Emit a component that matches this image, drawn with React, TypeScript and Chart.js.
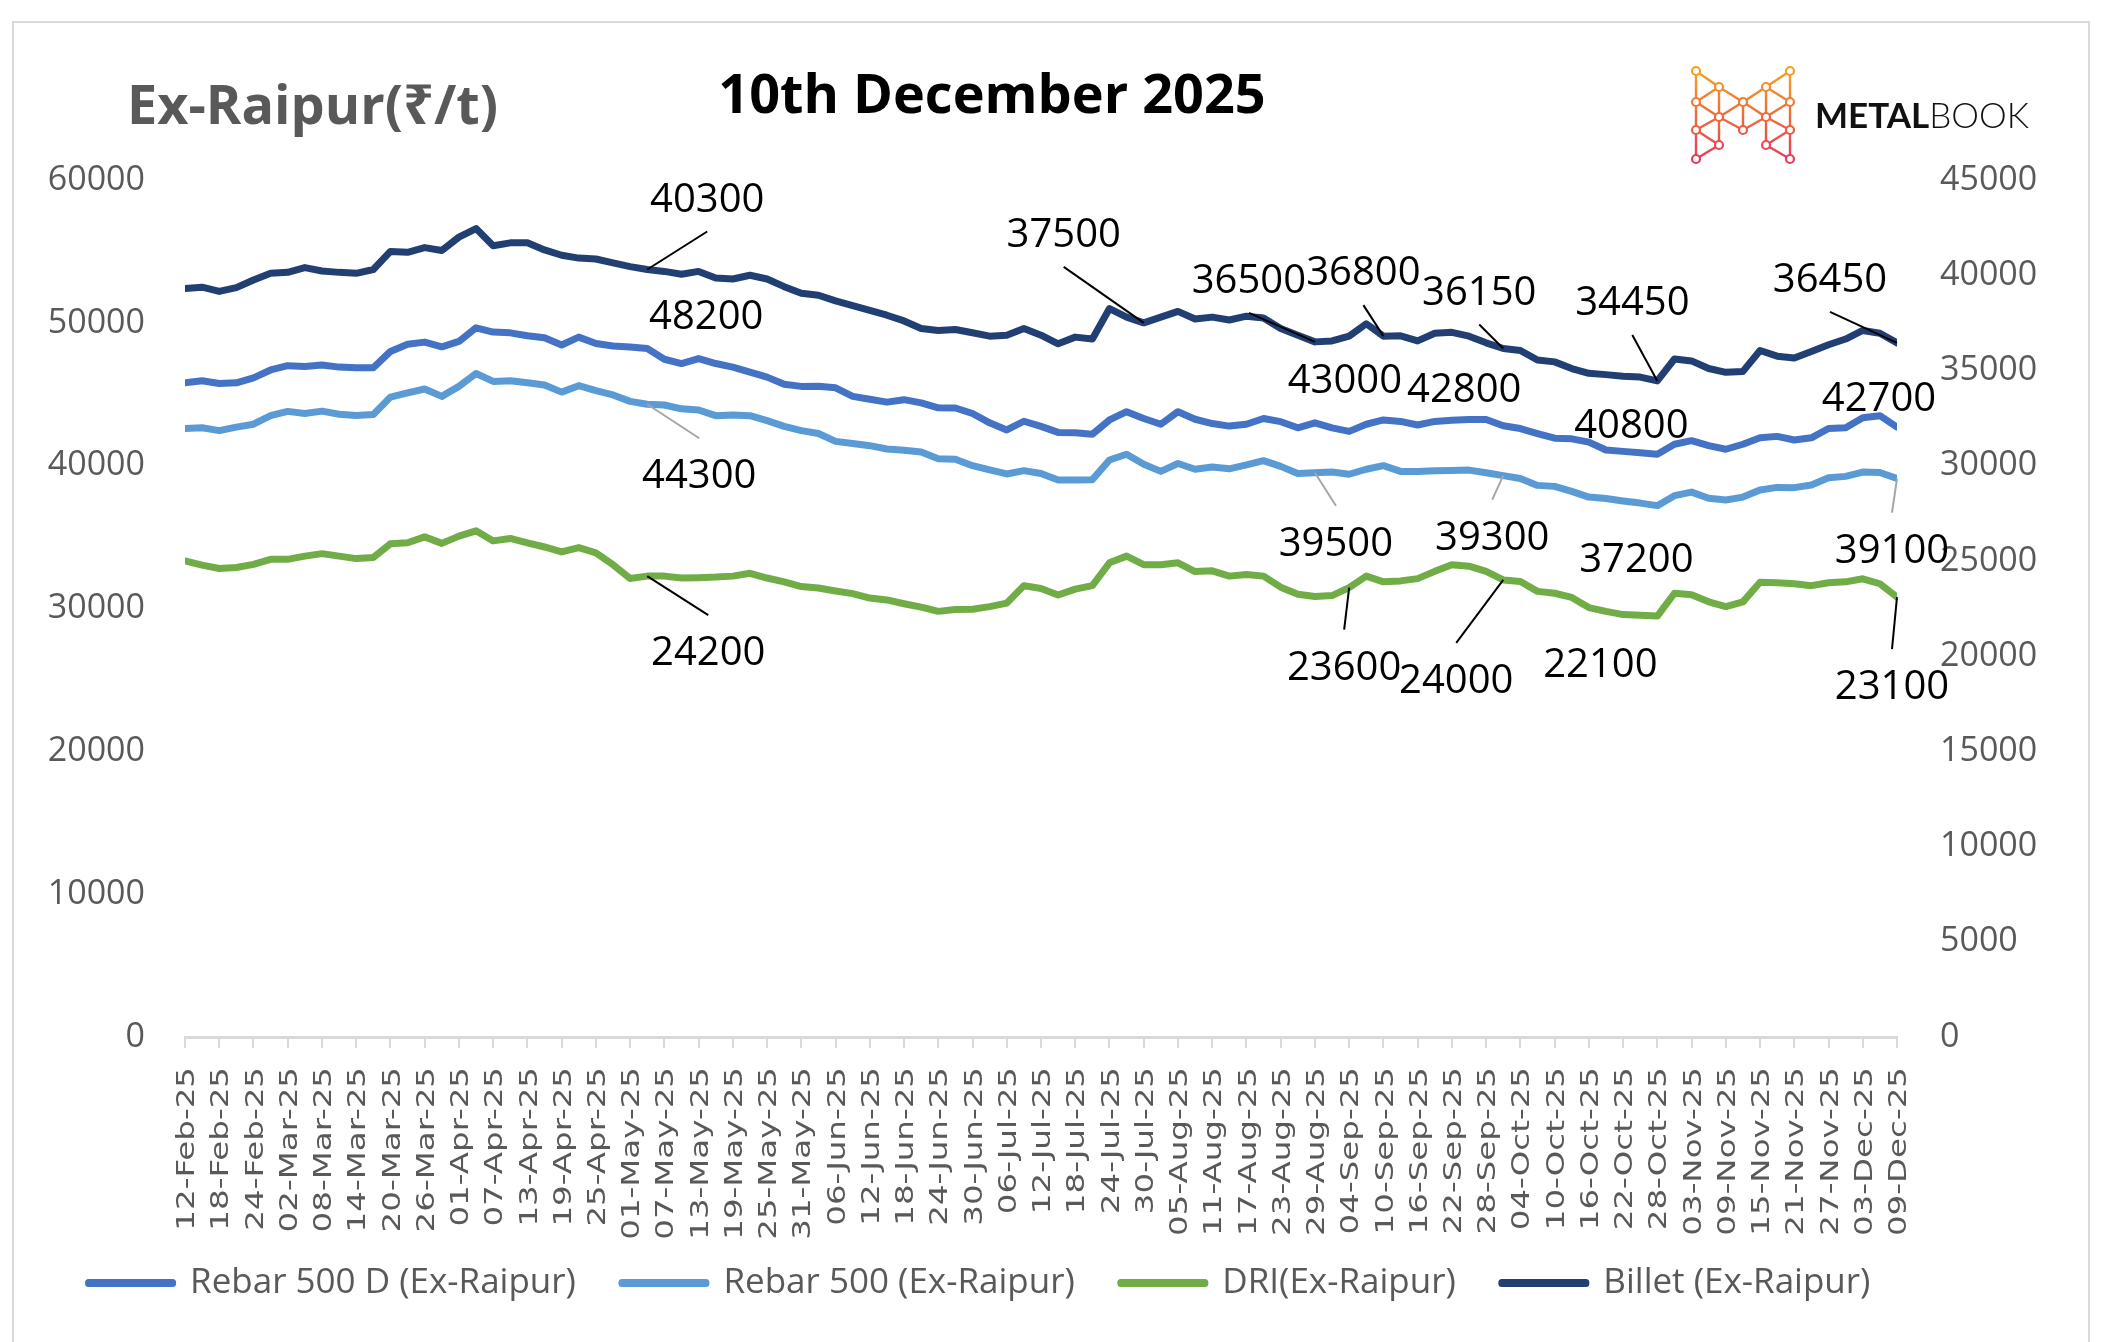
import React, { useEffect, useRef } from "react";
import { Chart, registerables } from "chart.js";

Chart.register(...registerables);

// ---------------- DATA ----------------
// day offsets from 12-Feb-25 (0) to 09-Dec-25 (300)
const days = [
  0, 3, 6, 9, 12, 15, 18, 21, 24, 27,
  30, 33, 36, 39, 42, 45, 48, 51, 54, 57,
  60, 63, 66, 69, 72, 75, 78, 81, 84, 87,
  90, 93, 96, 99, 102, 105, 108, 111, 114, 117,
  120, 123, 126, 129, 132, 135, 138, 141, 144, 147,
  150, 153, 156, 159, 162, 165, 168, 171, 174, 177,
  180, 183, 186, 189, 192, 195, 198, 201, 204, 207,
  210, 213, 216, 219, 222, 225, 228, 231, 234, 237,
  240, 243, 246, 249, 252, 255, 258, 261, 264, 267,
  270, 273, 276, 279, 282, 285, 288, 291, 294, 297,
  300,
];

const tickLabels = [
  "12-Feb-25", "18-Feb-25", "24-Feb-25", "02-Mar-25", "08-Mar-25", "14-Mar-25", "20-Mar-25", "26-Mar-25",
  "01-Apr-25", "07-Apr-25", "13-Apr-25", "19-Apr-25", "25-Apr-25", "01-May-25", "07-May-25", "13-May-25",
  "19-May-25", "25-May-25", "31-May-25", "06-Jun-25", "12-Jun-25", "18-Jun-25", "24-Jun-25", "30-Jun-25",
  "06-Jul-25", "12-Jul-25", "18-Jul-25", "24-Jul-25", "30-Jul-25", "05-Aug-25", "11-Aug-25", "17-Aug-25",
  "23-Aug-25", "29-Aug-25", "04-Sep-25", "10-Sep-25", "16-Sep-25", "22-Sep-25", "28-Sep-25", "04-Oct-25",
  "10-Oct-25", "16-Oct-25", "22-Oct-25", "28-Oct-25", "03-Nov-25", "09-Nov-25", "15-Nov-25", "21-Nov-25",
  "27-Nov-25", "03-Dec-25", "09-Dec-25",
];

const rebar500D = [
  45800, 45950, 45750, 45800, 46150, 46700, 47000, 46950, 47050, 46900,
  46850, 46850, 48000, 48500, 48650, 48320, 48700, 49650, 49350, 49300,
  49100, 48950, 48450, 49000, 48550, 48380, 48300, 48200, 47450, 47150,
  47500, 47150, 46900, 46550, 46200, 45700, 45550, 45560, 45450, 44850,
  44650, 44450, 44620, 44400, 44050, 44040, 43650, 43000, 42500, 43110,
  42750, 42330, 42300, 42200, 43200, 43780, 43300, 42900, 43780, 43250,
  42950, 42770, 42900, 43300, 43080, 42650, 43000, 42650, 42400, 42900,
  43200, 43100, 42850, 43100, 43180, 43230, 43230, 42800, 42600, 42250,
  41920, 41880, 41650, 41100, 41000, 40900, 40800, 41500, 41750, 41400,
  41150, 41500, 41950, 42050, 41800, 41950, 42600, 42650, 43350, 43500,
  42700,
];

const rebar500 = [
  42600, 42650, 42450, 42700, 42900, 43500, 43800, 43650, 43820, 43600,
  43520, 43580, 44800, 45100, 45370, 44850, 45550, 46450, 45900, 45950,
  45800, 45650, 45150, 45600, 45250, 44950, 44500, 44300, 44250, 43980,
  43900, 43500, 43550, 43500, 43150, 42750, 42450, 42250, 41700, 41550,
  41400, 41170, 41080, 40950, 40480, 40450, 40000, 39700, 39420, 39650,
  39450, 38990, 38990, 39020, 40400, 40800, 40100, 39600, 40150, 39750,
  39900, 39780, 40050, 40350, 39950, 39450, 39500, 39550, 39400, 39750,
  40000, 39600, 39600, 39640, 39660, 39690, 39500, 39300, 39100, 38620,
  38550, 38200, 37800, 37700, 37530, 37380, 37200, 37900, 38150, 37720,
  37600, 37800, 38300, 38480, 38460, 38650, 39150, 39250, 39550, 39520,
  39100,
];

const dri = [
  25000, 24780, 24600, 24650, 24820, 25080, 25080, 25250, 25380, 25250,
  25120, 25180, 25900, 25950, 26260, 25920, 26300, 26580, 26050, 26180,
  25950, 25730, 25470, 25700, 25420, 24800, 24080, 24200, 24200, 24100,
  24120, 24150, 24200, 24350, 24100, 23900, 23650, 23580, 23420, 23280,
  23050, 22950, 22750, 22570, 22350, 22450, 22460, 22600, 22780, 23700,
  23550, 23210, 23520, 23700, 24900, 25250, 24800, 24800, 24900, 24440,
  24480, 24200, 24280, 24200, 23620, 23250, 23130, 23180, 23600, 24200,
  23900, 23950, 24070, 24450, 24800, 24720, 24450, 24000, 23920, 23400,
  23300, 23080, 22550, 22350, 22180, 22150, 22100, 23300, 23220, 22850,
  22600, 22850, 23880, 23850, 23800, 23700, 23850, 23900, 24060, 23800,
  23100,
];

const billet = [
  39300, 39370, 39150, 39350, 39750, 40100, 40150, 40400, 40220, 40150,
  40100, 40300, 41250, 41200, 41450, 41300, 42000, 42450, 41550, 41700,
  41700, 41330, 41050, 40900, 40850, 40650, 40450, 40300, 40200, 40050,
  40200, 39850, 39800, 40000, 39800, 39400, 39050, 38950, 38650, 38400,
  38150, 37900, 37600, 37200, 37100, 37150, 36980, 36800, 36850, 37200,
  36850, 36400, 36750, 36650, 38250, 37800, 37500, 37800, 38100, 37700,
  37800, 37650, 37850, 37750, 37200, 36850, 36500, 36550, 36800, 37450,
  36800, 36820, 36550, 36950, 37000, 36800, 36450, 36150, 36050, 35550,
  35450, 35100, 34850, 34780, 34700, 34650, 34450, 35600, 35500, 35100,
  34900, 34950, 36050, 35750, 35650, 36000, 36350, 36650, 37100, 36950,
  36450,
];

const seriesNames = ["Rebar 500 D (Ex-Raipur)", "Rebar 500 (Ex-Raipur)", "DRI(Ex-Raipur)", "Billet (Ex-Raipur)"];

// value call-outs: dataset index, day, text offset from point, leader line
const callouts = [
  { ds: 3, day: 81, dx: 60, dy: -72, leader: true },
  { ds: 3, day: 168, dx: -80, dy: -90, leader: true },
  { ds: 3, day: 198, dx: -66, dy: -63, leader: true },
  { ds: 3, day: 210, dx: -20, dy: -65, leader: true },
  { ds: 3, day: 231, dx: -24, dy: -58, leader: true },
  { ds: 3, day: 258, dx: -25, dy: -80, leader: true },
  { ds: 3, day: 300, dx: -67, dy: -65, leader: true },
  { ds: 0, day: 81, dx: 59, dy: -34, leader: false },
  { ds: 0, day: 198, dx: 30, dy: -44, leader: false },
  { ds: 0, day: 231, dx: -39, dy: -38, leader: false },
  { ds: 0, day: 258, dx: -26, dy: -30, leader: false },
  { ds: 0, day: 300, dx: -18, dy: -30, leader: false },
  { ds: 1, day: 81, dx: 52, dy: 70, leader: true },
  { ds: 1, day: 198, dx: 21, dy: 69, leader: true },
  { ds: 1, day: 231, dx: -11, dy: 60, leader: true },
  { ds: 1, day: 258, dx: -21, dy: 52, leader: false },
  { ds: 1, day: 300, dx: -5, dy: 70, leader: true },
  { ds: 2, day: 81, dx: 61, dy: 75, leader: true },
  { ds: 2, day: 204, dx: -5, dy: 78, leader: true },
  { ds: 2, day: 231, dx: -47, dy: 99, leader: true },
  { ds: 2, day: 258, dx: -57, dy: 47, leader: false },
  { ds: 2, day: 300, dx: -5, dy: 88, leader: true },
];

// ---------------- STYLE ----------------
const W = 2103;
const H = 1342;
const PLOT_LEFT = 185;
const PLOT_RIGHT = 1897;
const LEGEND_SHIFT = -72;
const COLORS = ["#4472c4", "#5b9bd5", "#70ad47", "#223f73"];
const LEADER_COLORS = ["#000000", "#a6a6a6", "#000000", "#000000"];
const AXIS_GRAY = "#595959";
const FONT = "'Open Sans', 'Noto Sans', sans-serif";

const xLabelPlugin = {
  id: "xLabelPlugin",
  afterDraw(chart: any) {
    const ctx = chart.ctx;
    const xs = chart.scales.x;
    ctx.save();
    ctx.fillStyle = AXIS_GRAY;
    ctx.font = "25px 'DejaVu Sans'";
    ctx.textAlign = "right";
    ctx.textBaseline = "alphabetic";
    tickLabels.forEach((lab, i) => {
      const x = xs.getPixelForValue(i * 6);
      ctx.save();
      ctx.translate(x, xs.top + 30);
      ctx.rotate(-Math.PI / 2);
      ctx.scale(1.3, 1);
      ctx.fillText(lab, 0, 9.1);
      ctx.restore();
    });
    ctx.restore();
  },
};

const legendShiftPlugin = {
  id: "legendShiftPlugin",
  afterLayout(chart: any) {
    const lg = chart.legend;
    if (lg) {
      lg.left += LEGEND_SHIFT;
      lg.right += LEGEND_SHIFT;
    }
  },
};

const calloutPlugin = {
  id: "calloutPlugin",
  afterDatasetsDraw(chart: any) {
    const ctx = chart.ctx;
    ctx.save();
    ctx.font = `40px ${FONT}`;
    ctx.textAlign = "center";
    ctx.textBaseline = "alphabetic";
    callouts.forEach((c) => {
      const idx = days.indexOf(c.day);
      const el = chart.getDatasetMeta(c.ds).data[idx];
      const value = chart.data.datasets[c.ds].data[idx];
      const cx = el.x + c.dx;
      const cy = el.y + c.dy;
      if (c.leader) {
        ctx.strokeStyle = LEADER_COLORS[c.ds];
        ctx.lineWidth = 2;
        ctx.beginPath();
        ctx.moveTo(el.x, el.y);
        ctx.lineTo(cx, cy + (c.dy < 0 ? 34 : -36));
        ctx.stroke();
      }
      ctx.fillStyle = "#000000";
      ctx.fillText(String(value), cx, cy + 14);
    });
    ctx.restore();
  },
};

function Logo() {
  const A = [[7, 5], [7, 36], [7, 64], [7, 93]];
  const B = [[30, 21], [30, 51], [30, 79]];
  const C = [[54, 36], [54, 64]];
  const D = [[77, 21], [77, 51], [77, 79]];
  const E = [[101, 5], [101, 36], [101, 64], [101, 93]];
  const edges: number[][][] = [
    [A[0], A[1]], [A[1], A[2]], [A[2], A[3]],
    [E[0], E[1]], [E[1], E[2]], [E[2], E[3]],
    [B[0], B[1]], [B[1], B[2]], [D[0], D[1]], [D[1], D[2]],
    [A[0], B[0]], [B[0], C[0]], [C[0], D[0]], [D[0], E[0]],
    [A[1], B[0]], [A[1], B[1]], [A[2], B[1]], [A[2], B[2]], [A[3], B[2]],
    [E[1], D[0]], [E[1], D[1]], [E[2], D[1]], [E[2], D[2]], [E[3], D[2]],
    [C[0], B[1]], [C[0], D[1]], [C[1], B[1]], [C[1], D[1]], [C[0], C[1]],
  ];
  const nodes = [...A, ...B, ...C, ...D, ...E];
  return (
    <svg width={110} height={100} style={{ position: "absolute", left: 1689, top: 66 }}>
      <defs>
        <linearGradient id="mbg" x1="0" y1="0" x2="0" y2="100" gradientUnits="userSpaceOnUse">
          <stop offset="0" stopColor="#f6a623" />
          <stop offset="0.5" stopColor="#ee6b3b" />
          <stop offset="1" stopColor="#e43461" />
        </linearGradient>
      </defs>
      {edges.map((e, i) => (
        <line key={i} x1={e[0][0]} y1={e[0][1]} x2={e[1][0]} y2={e[1][1]} stroke="url(#mbg)" strokeWidth={2.4} />
      ))}
      {nodes.map((n, i) => (
        <circle key={i} cx={n[0]} cy={n[1]} r={4} fill="#ffffff" stroke="url(#mbg)" strokeWidth={2.2} />
      ))}
    </svg>
  );
}

export default function App() {
  const ref = useRef<HTMLCanvasElement>(null);

  useEffect(() => {
    const canvas = ref.current!;
    const lineStyle = {
      borderWidth: 7,
      pointRadius: 0,
      tension: 0,
      borderJoinStyle: "round" as const,
      borderCapStyle: "round" as const,
      fill: false,
    };
    const datasets = [rebar500D, rebar500, dri, billet].map((d, i) => ({
      label: seriesNames[i],
      data: d,
      borderColor: COLORS[i],
      backgroundColor: COLORS[i],
      yAxisID: i < 2 ? "y" : "y1",
      ...lineStyle,
    }));
    const chart = new Chart(canvas, {
      type: "line",
      data: { labels: days, datasets },
      options: {
        responsive: false,
        animation: false,
        devicePixelRatio: 1,
        layout: { padding: { left: 0, right: 0, top: 180, bottom: 31.5 } },
        plugins: {
          legend: {
            position: "bottom",
            labels: {
              boxWidth: 84,
              boxHeight: 1,
              padding: 46,
              color: AXIS_GRAY,
              font: { family: FONT, size: 35 },
            },
          },
          tooltip: { enabled: false },
        },
        scales: {
          x: {
            type: "linear",
            min: 0,
            max: 300,
            afterFit: (s: any) => { s.height = 182.5; },
            ticks: { display: false, stepSize: 6 },
            grid: { display: true, drawOnChartArea: false, drawTicks: true, tickLength: 11, color: "#d9d9d9", lineWidth: 2 },
            border: { display: true, color: "#d9d9d9", width: 3 },
          },
          y: {
            position: "left",
            min: 0,
            max: 60000,
            afterFit: (s: any) => { s.width = PLOT_LEFT; },
            ticks: { stepSize: 10000, padding: 40, color: AXIS_GRAY, font: { family: FONT, size: 34 }, callback: (v: any) => String(v) },
            grid: { display: false, drawTicks: false },
            border: { display: false },
          },
          y1: {
            position: "right",
            min: 0,
            max: 45000,
            afterFit: (s: any) => { s.width = W - PLOT_RIGHT; },
            ticks: { stepSize: 5000, padding: 43, color: AXIS_GRAY, font: { family: FONT, size: 34 }, callback: (v: any) => String(v) },
            grid: { display: false, drawTicks: false },
            border: { display: false },
          },
        },
      } as any,
      plugins: [xLabelPlugin, calloutPlugin, legendShiftPlugin],
    });
    return () => chart.destroy();
  }, []);

  return (
    <div style={{ position: "absolute", left: 0, top: 0, width: W, height: H, overflow: "hidden", background: "#ffffff" }}>
      <div style={{ position: "absolute", left: 12, top: 21, width: 2078, height: 1340, border: "2px solid #d9d9d9", boxSizing: "border-box" }} />
      <canvas ref={ref} width={W} height={H} style={{ position: "absolute", left: 0, top: 0, width: W, height: H }} />
      <div style={{ position: "absolute", left: 127, top: 76, fontFamily: FONT, fontWeight: 700, fontSize: 54, lineHeight: 1, color: "#595959", whiteSpace: "nowrap" }}>
        Ex-Raipur(₹/t)
      </div>
      <div style={{ position: "absolute", left: 592, top: 65, width: 800, textAlign: "center", fontFamily: FONT, fontWeight: 700, fontSize: 54, lineHeight: 1, color: "#000000", whiteSpace: "nowrap" }}>
        10th December 2025
      </div>
      <Logo />
      <div style={{ position: "absolute", left: 1815, top: 97, fontFamily: "Lato, 'Open Sans', sans-serif", fontSize: 35, lineHeight: 1, color: "#111111", whiteSpace: "nowrap" }}>
        <span style={{ fontWeight: 700 }}>METAL</span>
        <span style={{ fontWeight: 300 }}>BOOK</span>
      </div>
    </div>
  );
}
